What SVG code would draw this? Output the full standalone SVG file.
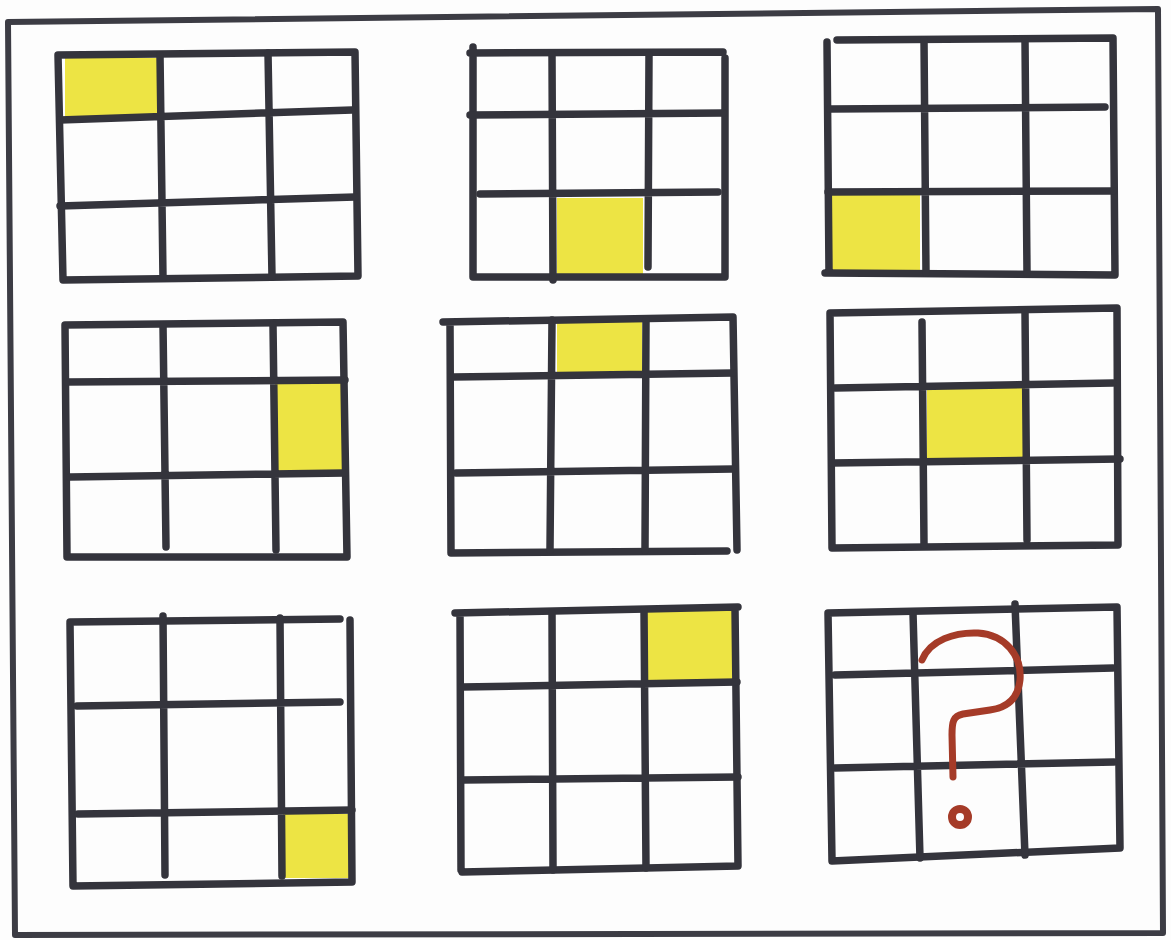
<svg xmlns="http://www.w3.org/2000/svg" width="1171" height="940" viewBox="0 0 1171 940">
<style>
.ln{fill:none;stroke:#34343c;stroke-width:7.5;stroke-linecap:round;stroke-linejoin:round}
.frame{fill:none;stroke:#3c3c44;stroke-width:6;stroke-linejoin:round}
.cell{fill:#ede444}
.q{fill:none;stroke:#a53b28;stroke-width:7;stroke-linecap:round;stroke-linejoin:round}
</style>
<rect x="0" y="0" width="1171" height="940" fill="#fdfdfd"/>
<path class="frame" d="M8 22 L1158 9 L1163 933 L15 935 Z"/>

<g id="grid1">
<rect class="cell" x="65" y="58" width="93" height="62"/>
<path class="ln" d="M58 55 L355 52 L358 276 L63 280 Z"/>
<path class="ln" d="M160 55 L163 278 M268 53 L272 277 M60 120 L352 110 M60 206 L355 197"/>
</g>

<g id="grid2">
<rect class="cell" x="557" y="198" width="86" height="79"/>
<path class="ln" d="M473 47 L473 277 L725 277 L725 58 M470 53 L723 52"/>
<path class="ln" d="M552 55 L553 280 M649 55 L648 267 M470 115 L723 113 M480 194 L718 192"/>
</g>

<g id="grid3">
<rect class="cell" x="830" y="194" width="90" height="78"/>
<path class="ln" d="M837 40 L1113 38 L1115 275 L825 273 M827 42 L829 272"/>
<path class="ln" d="M924 40 L926 273 M1025 40 L1027 273 M830 109 L1105 107 M828 192 L1113 191"/>
</g>

<g id="grid4">
<rect class="cell" x="275" y="381" width="68" height="94"/>
<path class="ln" d="M65 325 L343 322 L347 557 L67 557 Z"/>
<path class="ln" d="M163 325 L166 547 M273 325 L276 550 M67 382 L345 380 M70 477 L345 473"/>
</g>

<g id="grid5">
<rect class="cell" x="557" y="322" width="85" height="50"/>
<path class="ln" d="M443 322 L733 317 L737 550 M450 322 L451 553 L727 551"/>
<path class="ln" d="M552 320 L550 550 M646 320 L645 550 M453 377 L733 373 M456 473 L733 469"/>
</g>

<g id="grid6">
<rect class="cell" x="927" y="386" width="98" height="73"/>
<path class="ln" d="M830 313 L1117 308 L1118 545 L832 548 Z"/>
<path class="ln" d="M922 322 L924 545 M1025 312 L1027 540 M835 388 L1113 383 M832 463 L1120 459"/>
</g>

<g id="grid7">
<rect class="cell" x="283" y="814" width="69" height="64"/>
<path class="ln" d="M70 622 L340 619 M350 620 L352 882 L73 886 L70 623"/>
<path class="ln" d="M163 616 L165 875 M280 618 L282 876 M77 706 L340 702 M78 814 L352 810"/>
</g>

<g id="grid8">
<rect class="cell" x="647" y="610" width="85" height="73"/>
<path class="ln" d="M455 613 L738 607 M460 613 L461 870 M735 608 L738 866 L462 872"/>
<path class="ln" d="M552 613 L553 870 M644 610 L646 868 M462 687 L737 682 M463 780 L738 777"/>
</g>

<g id="grid9">
<path class="ln" d="M828 613 L1117 607 L1120 848 L832 861 Z"/>
<path class="ln" d="M913 613 L920 858 M1015 604 L1025 855 M835 675 L1113 668 M835 768 L1114 762"/>
<path class="q" d="M922 660 C930 640 955 632 978 633 C1005 635 1022 655 1020 680 C1018 700 1005 708 990 710 L963 714 C953 716 952 722 952 735 L953 777"/>
<circle cx="960" cy="817" r="8" fill="none" stroke="#a53b28" stroke-width="8"/>
</g>
</svg>
